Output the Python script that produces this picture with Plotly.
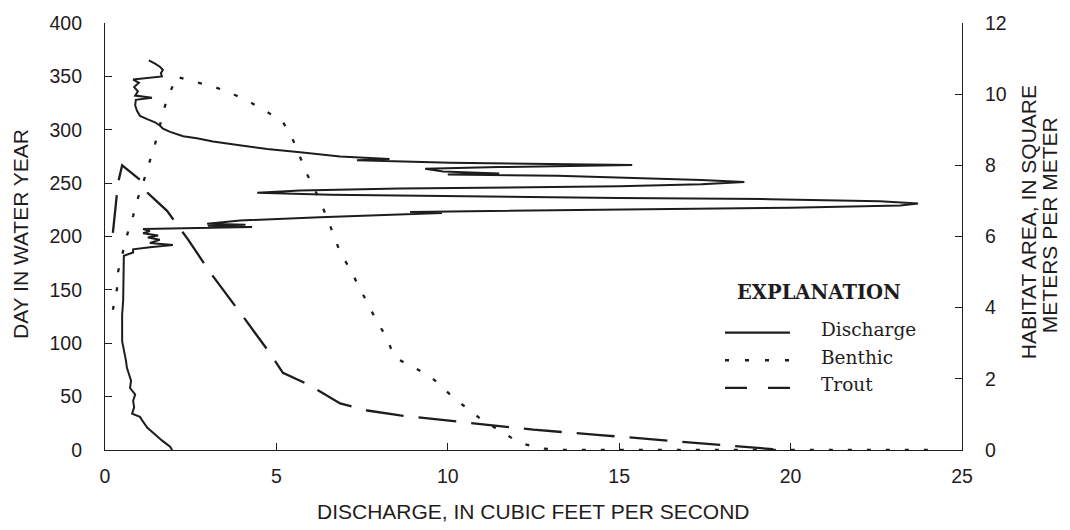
import plotly.graph_objects as go

# ---------------- data ----------------
day = [0, 3, 9, 15, 21, 28, 31, 34, 40, 46, 52, 58, 65, 71, 77, 84, 90, 96, 102,
       115, 127, 140, 157, 170, 182, 185, 188, 190, 192, 194, 197, 199, 201, 203,
       205, 207, 209, 210, 211, 212, 215, 218, 221, 222, 223, 225, 227, 229, 231,
       233, 235, 236, 237.5, 239, 241, 243, 245, 247, 249, 251, 253, 255, 257,
       258, 259, 261, 263.5, 265, 267, 269, 270.5, 271.5, 272.5, 275, 279, 282,
       285, 289, 292, 294, 298, 301, 304, 307, 310, 313, 318, 323, 328, 330, 332,
       336, 340, 344, 347, 350, 353, 356, 359, 362, 365]
discharge = [1.96, 1.90, 1.66, 1.46, 1.23, 1.08, 1.02, 0.79, 0.85, 0.82, 0.88,
             0.73, 0.76, 0.70, 0.64, 0.61, 0.58, 0.53, 0.50, 0.50, 0.50, 0.53,
             0.53, 0.55, 0.55, 0.82, 0.82, 1.31, 1.98, 1.31, 1.60, 1.25, 1.55,
             1.11, 1.31, 1.11, 4.29, 3.0, 4.1, 2.98, 3.94, 6.27, 8.9, 9.83, 8.9,
             15.03, 19.99, 23.2, 23.72, 22.6, 19.4, 15.0, 10.1, 6.57, 4.44, 5.69,
             8.6, 15.0, 17.4, 18.65, 17.4, 15.0, 13.2, 10.0, 11.5, 9.86, 9.34,
             11.5, 15.38, 10.07, 8.23, 7.35, 8.3, 6.86, 5.69, 4.73, 4.03, 3.15,
             2.68, 2.28, 1.90, 1.69, 1.60, 1.46, 1.23, 1.02, 0.93, 0.88, 0.90,
             1.37, 0.88, 0.96, 0.85, 0.99, 0.82, 1.66, 1.63, 1.69, 1.60, 1.46, 1.28]

benthic_q = [0.23, 0.35, 0.38, 0.64, 0.82, 0.96, 1.11, 1.31, 1.46, 1.75, 1.96,
             2.04, 2.68, 3.21, 3.74, 4.23, 4.73, 5.19, 5.49, 5.69, 5.92, 6.13,
             6.48, 6.86, 7.15, 7.44, 7.67, 7.94, 8.23, 8.4, 8.55, 9.48, 10.2,
             10.94, 11.5, 12.1, 12.7, 13.3, 24.2]
benthic_area = [3.94, 4.53, 5.0, 6.03, 6.58, 7.08, 7.5, 8.1, 8.6, 9.67, 10.2,
                10.5, 10.33, 10.2, 10.0, 9.78, 9.5, 9.22, 8.7, 8.25, 7.7, 7.3,
                6.53, 5.55, 5.08, 4.53, 4.08, 3.6, 3.14, 2.7, 2.55, 2.08, 1.44,
                0.89, 0.55, 0.2, 0.05, 0.0, 0.0]

trout_q = [0.23, 0.38, 0.5, 1.08, 1.25, 1.81, 2.42, 3.06, 4.09, 4.81, 5.19,
           5.89, 6.86, 7.65, 8.61, 10.5, 12.5, 14.44, 15.6, 17.16, 18.76, 19.78]
trout_area = [6.1, 7.5, 8.0, 7.55, 7.22, 6.72, 5.92, 5.0, 3.67, 2.72, 2.17,
              1.86, 1.31, 1.11, 0.97, 0.78, 0.57, 0.42, 0.33, 0.22, 0.08, 0.0]

x_ticks = [0, 5, 10, 15, 20, 25]
day_ticks = [0, 50, 100, 150, 200, 250, 300, 350, 400]
area_ticks = [0, 2, 4, 6, 8, 10, 12]

legend_names = ["Discharge", "Benthic", "Trout"]

INK = "#1f1c1d"
SANS = "Liberation Sans, Arial, sans-serif"
SERIF = "DejaVu Serif, serif"

fig = go.Figure()
fig.add_trace(go.Scatter(x=discharge, y=day, mode="lines", yaxis="y",
                         line=dict(color=INK, width=2), showlegend=False))
fig.add_trace(go.Scatter(x=benthic_q, y=benthic_area, mode="lines", yaxis="y2",
                         line=dict(color=INK, width=2.3, dash="4px,15px"),
                         showlegend=False))
fig.add_trace(go.Scatter(x=trout_q, y=trout_area, mode="lines", yaxis="y2",
                         line=dict(color=INK, width=2.3, dash="38px,15px"),
                         showlegend=False))

axis_common = dict(showgrid=False, zeroline=False, showline=True, linecolor=INK,
                   linewidth=1.2, ticks="inside", ticklen=7, tickcolor=INK,
                   tickwidth=1.2, tickfont=dict(family=SANS, size=19.5, color=INK))

fig.update_layout(
    width=1070, height=530,
    margin=dict(l=105, r=108, t=17, b=80),
    paper_bgcolor="white", plot_bgcolor="white",
    xaxis=dict(range=[0, 25], tickvals=x_ticks, ticklabelstandoff=8, **axis_common),
    yaxis=dict(range=[0, 400], tickvals=day_ticks, ticklabelstandoff=18, **axis_common),
    yaxis2=dict(range=[0, 12], tickvals=area_ticks, overlaying="y", side="right",
                ticklabelstandoff=18, **axis_common),
    showlegend=False,
)

def px_x(px):
    return (px - 105) / 857.0

def px_y(py):
    return (450 - py) / 433.0

annotations = [
    dict(text="DISCHARGE, IN CUBIC FEET PER SECOND", x=0.5, y=px_y(512),
         font=dict(family=SANS, size=21, color=INK)),
    dict(text="DAY IN WATER YEAR", x=px_x(20), y=px_y(231), textangle=-90,
         font=dict(family=SANS, size=21, color=INK)),
    dict(text="HABITAT AREA, IN SQUARE", x=px_x(1028), y=px_y(219), textangle=-90,
         font=dict(family=SANS, size=21, color=INK)),
    dict(text="METERS PER METER", x=px_x(1049), y=px_y(222), textangle=-90,
         font=dict(family=SANS, size=21, color=INK)),
    dict(text="<b>EXPLANATION</b>", x=px_x(819), y=px_y(290),
         font=dict(family=SERIF, size=19.5, color=INK)),
]
row_y = [328, 356, 384]
line_y = [331, 359, 387]
dashes = ["solid", "4px,16px", "22px,21px"]
for name, ty in zip(legend_names, row_y):
    annotations.append(dict(text=name, x=px_x(819), y=px_y(ty), xanchor="left",
                            font=dict(family=SERIF, size=18.5, color=INK)))
for a in annotations:
    a.setdefault("xref", "paper")
    a.setdefault("yref", "paper")
    a.setdefault("showarrow", False)
    a.setdefault("xanchor", "center")
    a.setdefault("yanchor", "middle")
fig.update_layout(annotations=annotations)

shapes = []
for ly, dsh in zip(line_y, dashes):
    shapes.append(dict(type="line", xref="paper", yref="paper",
                       x0=px_x(725), x1=px_x(790), y0=px_y(ly), y1=px_y(ly),
                       line=dict(color=INK, width=2.3, dash=dsh)))
fig.update_layout(shapes=shapes)

fig.write_html("out.html")
